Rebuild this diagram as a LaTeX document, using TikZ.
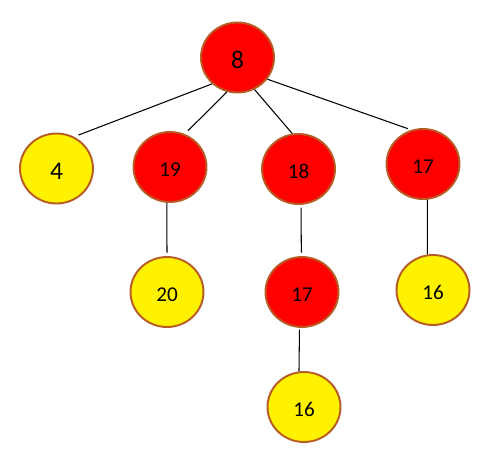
\documentclass[tikz,border=0pt]{standalone}
\usepackage{fontspec}
\setmainfont{Carlito}
\usetikzlibrary{shapes.geometric}
\definecolor{heapborder}{RGB}{184,92,38}
\tikzset{
  heapnode/.style={ellipse,draw=heapborder,line width=1.1pt,minimum width=1.46cm,minimum height=1.40cm,inner sep=0pt,text height=10.4pt,text depth=0pt,font=\fontsize{12}{14}\selectfont},
  rednode/.style={heapnode,fill=red},
  yellownode/.style={heapnode,fill=yellow},
  bignum/.style={text height=12pt,font=\fontsize{14.5}{16}\selectfont},
  every edge/.style={draw,line width=0.6pt},
}
\begin{document}
\begin{tikzpicture}[x=0.02cm,y=-0.02cm]
\useasboundingbox (0,0) rectangle (495,460);

% first level
\node[rednode,bignum] (q8) at (237.5,57.5) {8};
\node[yellownode,bignum] (q4) at (56.5,168.5) {4};
\node[rednode] (q19) at (170,167) {19};
\node[rednode] (q18) at (298.5,169) {18};
\node[rednode] (q17a) at (423,164) {17};

% second level
\node[yellownode] (q20) at (167,292) {20};
\node[rednode] (q17b) at (302,292) {17};
\node[yellownode] (q16a) at (433,290) {16};
\node[yellownode] (q16b) at (304,407) {16};

\path
(q8.226) edge[shorten >=2.6pt] (q4.61)
(q8.253) edge[shorten >=2.6pt] (q19.66)
(q8.298) edge (q18.100)
(q8.324) edge[shorten >=2pt] (q17a.109)
(q19.265) edge[shorten >=2pt] (q20.90)
(q18.274) edge[shorten <=1.5pt,shorten >=2pt] (q17b.91)
(q17a.277) edge (q16a.99)
(q17b.266) edge[shorten <=1pt] (q16b.98);

\end{tikzpicture}
\end{document}
